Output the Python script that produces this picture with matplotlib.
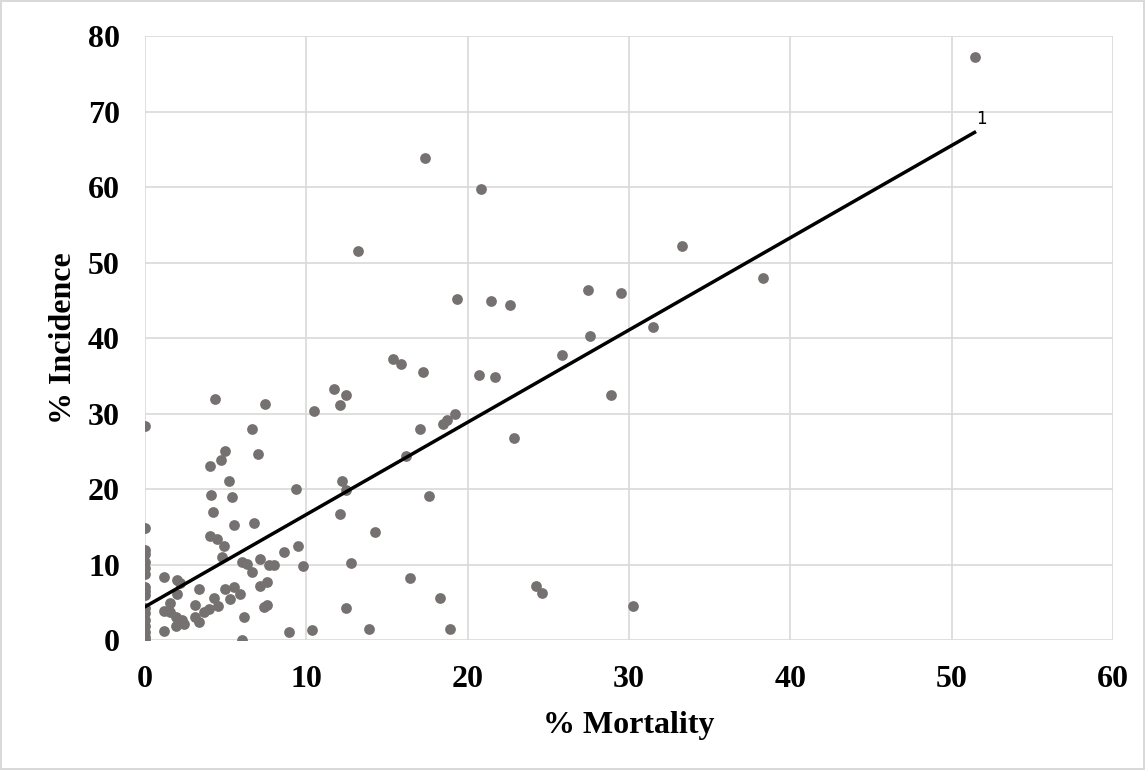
import numpy as np
import matplotlib.pyplot as plt

plt.rcParams['font.family'] = ['Liberation Serif', 'DejaVu Serif']

# % Mortality (x) and % Incidence (y)
zero_y = [28.3, 14.8, 11.9, 11.4, 10.3, 9.6, 8.8, 7.0, 6.5, 6.0,
          4.3, 3.6, 2.6, 1.8, 1.0, 0.4, 0.0]

mort = [1.17, 1.99, 2.2, 1.99, 3.37, 1.58, 1.17, 1.58, 1.93, 2.3,
        2.4, 1.93, 3.13, 3.13, 3.33, 3.64, 3.95, 1.17, 4.26, 4.5,
        4.98, 5.3, 5.5, 5.91, 6.12, 6.02, 7.15, 7.57, 7.36, 7.57,
        8.9, 10.35, 4.06, 4.45, 4.9, 4.78, 6.02, 6.33, 6.64, 7.11,
        7.67, 7.98, 8.6, 9.46, 9.8, 5.5, 6.74, 4.2, 4.08, 5.38,
        5.21, 9.36, 4.01, 4.74, 4.98, 6.99, 6.64, 4.32, 7.46, 10.48,
        11.69, 12.48, 12.1, 19.23, 18.71, 18.46, 17.02, 16.19, 12.23, 12.48,
        17.6, 12.08, 14.25, 12.79, 16.4, 18.3, 12.48, 13.86, 18.9, 17.35,
        20.86, 13.2, 19.33, 21.46, 22.6, 15.37, 15.84, 17.22, 20.73, 21.72,
        33.3, 38.34, 27.48, 29.5, 31.5, 27.57, 25.85, 28.9, 22.86, 24.24,
        24.6, 30.27, 51.42]

inc = [8.3, 8.0, 7.6, 6.1, 6.8, 4.9, 3.9, 3.75, 3.1, 2.65,
       2.1, 1.85, 4.6, 3.1, 2.4, 3.75, 4.1, 1.2, 5.6, 4.5,
       6.7, 5.4, 7.0, 6.1, 3.1, 0.0, 7.1, 7.7, 4.4, 4.6,
       1.1, 1.3, 13.8, 13.4, 12.4, 11.0, 10.4, 10.1, 9.0, 10.7,
       10.0, 10.0, 11.6, 12.4, 9.85, 15.3, 15.5, 16.9, 19.2, 18.9,
       21.1, 20.0, 23.0, 23.8, 25.1, 24.6, 28.0, 31.9, 31.3, 30.3,
       33.3, 32.5, 31.1, 30.0, 29.2, 28.6, 27.9, 24.4, 21.1, 19.9,
       19.1, 16.7, 14.3, 10.2, 8.2, 5.6, 4.2, 1.4, 1.4, 63.8,
       59.7, 51.5, 45.2, 44.9, 44.4, 37.2, 36.6, 35.5, 35.1, 34.8,
       52.2, 47.9, 46.3, 45.9, 41.5, 40.3, 37.7, 32.5, 26.8, 7.15,
       6.2, 4.5, 77.2]

# linear trendline as drawn in the chart
trend_intercept = 4.4
trend_slope = 1.222

x = np.array([0.0] * len(zero_y) + mort)
y = np.array(zero_y + inc)

xt = np.array([0.0, x.max()])
yt = trend_intercept + trend_slope * xt

fig = plt.figure(figsize=(11.45, 7.7), dpi=100)
fig.patch.set_edgecolor('#d9d9d9')
fig.patch.set_linewidth(1.5)
ax = fig.add_axes([0.1266, 0.1688, 0.8454, 0.7844])

ax.scatter(x, y, s=60, color='#767171', zorder=3, linewidths=0)
ax.plot(xt, yt, color='black', lw=2.5, zorder=4)
ax.annotate('1', (xt[1], yt[1]), xytext=(1, 3), textcoords='offset points',
            fontsize=12, family=['DejaVu Sans'], ha='left', va='bottom')

ax.set_xlim(0, 60)
ax.set_ylim(0, 80)
ax.set_xticks(np.arange(0, 61, 10))
ax.set_yticks(np.arange(0, 81, 10))
ax.grid(True, color='#d9d9d9', lw=1.2)
ax.set_axisbelow(True)
for s in ax.spines.values():
    s.set_visible(False)
ax.tick_params(length=0, labelsize=23, pad=18)
for lab in ax.get_xticklabels() + ax.get_yticklabels():
    lab.set_fontweight('bold')

ax.set_xlabel('% Mortality', fontsize=23, fontweight='bold', labelpad=12)
ax.set_ylabel('% Incidence', fontsize=23, fontweight='bold', labelpad=7)

fig.savefig('out.png', dpi=100, edgecolor=fig.get_edgecolor())
